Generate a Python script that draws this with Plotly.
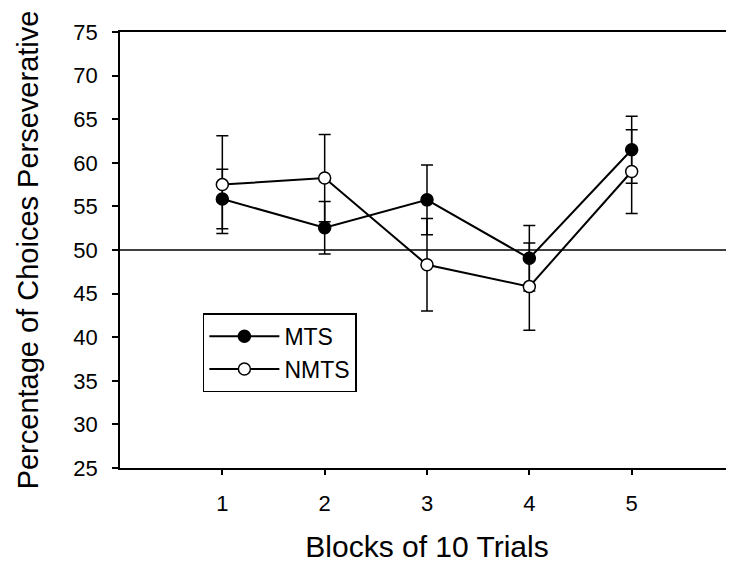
import plotly.graph_objects as go

blocks = [1, 2, 3, 4, 5]
mts_mean = [55.85, 52.55, 55.75, 49.05, 61.5]
mts_err = [3.4, 3.0, 4.0, 3.75, 3.85]
nmts_mean = [57.5, 58.25, 48.3, 45.8, 59.0]
nmts_err = [5.6, 5.0, 5.3, 5.0, 4.8]
y_ticks = [25, 30, 35, 40, 45, 50, 55, 60, 65, 70, 75]
x_ticks = [1, 2, 3, 4, 5]

FONT = "Liberation Sans, Arial, sans-serif"

fig = go.Figure()
fig.add_trace(go.Scatter(
    x=blocks, y=mts_mean, name="MTS", mode="lines+markers",
    line=dict(color="black", width=2),
    marker=dict(symbol="circle", size=12, color="black", line=dict(color="black", width=1.5)),
    error_y=dict(type="data", array=mts_err, visible=True, color="black", thickness=1.5, width=6),
))
fig.add_trace(go.Scatter(
    x=blocks, y=nmts_mean, name="NMTS", mode="lines+markers",
    line=dict(color="black", width=2),
    marker=dict(symbol="circle", size=12, color="white", line=dict(color="black", width=1.5)),
    error_y=dict(type="data", array=nmts_err, visible=True, color="black", thickness=1.5, width=6),
))

fig.add_hline(y=50, line=dict(color="black", width=1.5), layer="below")

fig.update_layout(
    width=726, height=555,
    margin=dict(l=112, r=0, t=24, b=95),
    paper_bgcolor="white", plot_bgcolor="white",
    font=dict(family=FONT, color="black", size=22),
    showlegend=True,
    legend=dict(
        x=0.135, y=0.355, xanchor="left", yanchor="top",
        bordercolor="black", borderwidth=1.5, bgcolor="white",
        font=dict(size=23, family=FONT),
        itemwidth=70,
    ),
    xaxis=dict(
        range=[0, 6], tickvals=x_ticks, ticks="outside", ticklen=5, tickwidth=1.5,
        tickcolor="black", showline=True, linecolor="black", linewidth=1.5, mirror=True,
        showgrid=False, zeroline=False, ticklabelstandoff=10,
        tickfont=dict(size=22),
        title=dict(text="Blocks of 10 Trials", font=dict(size=30), standoff=22),
    ),
    yaxis=dict(
        range=[25, 75], tickvals=y_ticks, ticks="outside", ticklen=6, tickwidth=1.5,
        tickcolor="black", showline=True, linecolor="black", linewidth=1.5,
        showgrid=False, zeroline=False, ticklabelstandoff=10,
        tickfont=dict(size=22),
        title=dict(text="Percentage of Choices Perseverative", font=dict(size=29), standoff=26),
    ),
)

fig.write_html("out.html")
